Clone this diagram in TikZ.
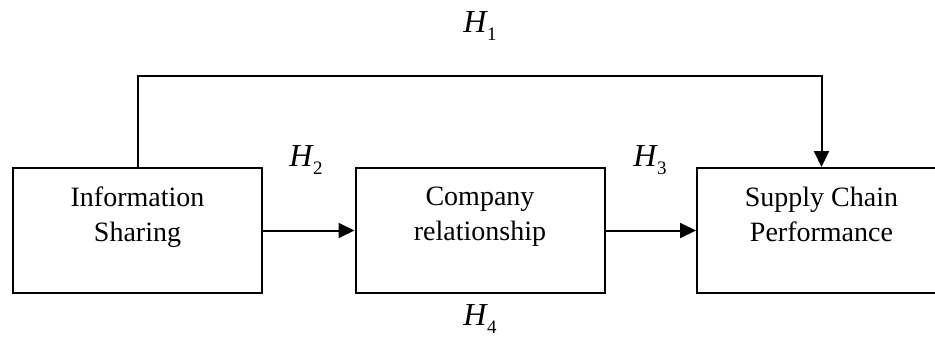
\documentclass[tikz,border=0pt]{standalone}
\usepackage{fontspec}
\setmainfont{Liberation Serif}
\usetikzlibrary{arrows.meta}
\tikzset{
  box/.style={draw=black, line width=2pt, minimum width=249pt, minimum height=125pt, inner sep=0pt},
  boxtext/.style={anchor=north, align=center, inner sep=0pt, font=\fontsize{28}{35}\selectfont},
  hlab/.style={inner sep=0pt, font=\fontsize{32}{36}\selectfont},
  conn/.style={draw=black, line width=2pt, -{Triangle[length=16pt,width=15pt]}},
}
\newcommand{\hyp}[1]{\textit{H}\kern-1pt\raisebox{-0.25em}{\fontsize{19}{20}\selectfont #1}}
\begin{document}
\begin{tikzpicture}[x=1pt,y=-1pt]
\useasboundingbox (0,0) rectangle (935,341);
\clip (0,0) rectangle (935,341);
\node[box] (is) at (137.5,230.5) {};
\node[box] (cr) at (480,230.5) {};
\node[box] (scp) at (821.5,230.5) {};
\node[boxtext] (ist) at ([yshift=-20pt]is.north) {Information\\Sharing};
\node[boxtext] (crt) at ([yshift=-20pt]cr.north) {Company\\relationship};
\node[boxtext] (scpt) at ([yshift=-20pt]scp.north) {Supply Chain\\Performance};
\coordinate (top) at (480,76);
\draw[conn] (is.north) |- (top) -| (scp.north);
\draw[conn] (is.east) -- (cr.west);
\draw[conn] (cr.east) -- (scp.west);
\node[hlab] (h1) at (480,26) {\hyp{1}};
\node[hlab] (h2) at (306,160) {\hyp{2}};
\node[hlab] (h3) at (650,160) {\hyp{3}};
\node[hlab] (h4) at (480,319) {\hyp{4}};
\end{tikzpicture}
\end{document}
